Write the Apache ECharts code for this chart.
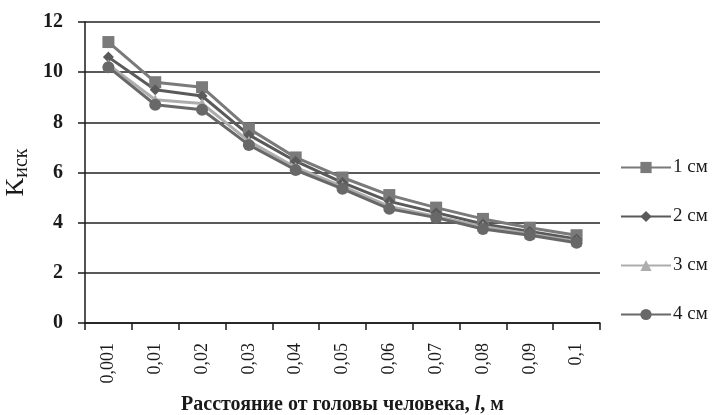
<!DOCTYPE html>
<html>
<head>
<meta charset="utf-8">
<script src="https://cdn.jsdelivr.net/npm/echarts@6/dist/echarts.min.js"></script>
<style>
  html, body { margin: 0; padding: 0; background: #fff; }
  #chart { width: 715px; height: 415px; }
</style>
</head>
<body>
<div id="chart"></div>
<script>
const categories = ["0,001", "0,01", "0,02", "0,03", "0,04", "0,05", "0,06", "0,07", "0,08", "0,09", "0,1"];
const s1 = [11.2, 9.6, 9.4, 7.75, 6.6, 5.8, 5.1, 4.6, 4.15, 3.8, 3.5];
const s2 = [10.6, 9.3, 9.05, 7.5, 6.45, 5.6, 4.85, 4.4, 3.95, 3.65, 3.35];
const s3 = [10.3, 8.9, 8.75, 7.25, 6.2, 5.45, 4.65, 4.25, 3.85, 3.55, 3.25];
const s4 = [10.2, 8.7, 8.5, 7.1, 6.1, 5.35, 4.55, 4.2, 3.75, 3.5, 3.2];
const seriesNames = ["1 см", "2 см", "3 см", "4 см"];
const yTicks = [0, 2, 4, 6, 8, 10, 12];

const serif = "Liberation Serif";
const ink = "#1a1a1a";
const chart = echarts.init(document.getElementById("chart"));

function line(name, data, color, symbol, size) {
  return {
    name: name,
    type: "line",
    data: data,
    symbol: symbol,
    symbolSize: size,
    lineStyle: { width: 3, color: color },
    itemStyle: { color: color },
  };
}

chart.setOption({
  animation: false,
  grid: { left: 85, right: 115, top: 22, bottom: 92, outerBoundsMode: "none" },
  legend: {
    orient: "vertical",
    left: 615,
    top: 153,
    itemGap: 30,
    itemWidth: 50,
    itemHeight: 14,
    textStyle: { fontFamily: serif, fontSize: 19, color: ink, padding: [0, 0, 0, -3] },
    data: seriesNames,
  },
  xAxis: {
    type: "category",
    data: categories,
    boundaryGap: true,
    name: "Расстояние от головы человека, {i|l}, м",
    nameLocation: "middle",
    nameGap: 72,
    nameTextStyle: {
      fontFamily: serif, fontSize: 20, fontWeight: "bold", color: ink,
      rich: { i: { fontFamily: serif, fontStyle: "italic", fontSize: 20, color: ink } },
    },
    axisLine: { lineStyle: { color: ink, width: 1.5 } },
    axisTick: { show: true, length: 7, lineStyle: { color: ink, width: 1.5 } },
    axisLabel: { rotate: 90, fontFamily: serif, fontSize: 18, color: ink, margin: 20 },
  },
  yAxis: {
    type: "value",
    min: 0,
    max: 12,
    interval: 2,
    name: "K{s|иск}",
    nameLocation: "middle",
    nameGap: 50,
    nameRotate: 90,
    nameTextStyle: {
      fontFamily: serif, fontSize: 26, color: ink,
      rich: { s: { fontFamily: serif, fontSize: 20, color: ink, padding: [12, 0, 0, 0] } },
    },
    axisLine: { show: true, lineStyle: { color: ink, width: 1.5 } },
    axisTick: { show: true, length: 7, lineStyle: { color: ink, width: 1.5 } },
    axisLabel: {
      fontFamily: serif, fontSize: 20, fontWeight: "bold", color: ink, margin: 22,
      formatter: (v) => (yTicks.includes(v) ? String(v) : ""),
    },
    splitLine: { lineStyle: { color: "#222", width: 1.5 } },
  },
  series: [
    line(seriesNames[0], s1, "#7a7a7a", "rect", 12),
    line(seriesNames[1], s2, "#5a5a5a", "diamond", 11),
    line(seriesNames[2], s3, "#adadad", "triangle", 11),
    line(seriesNames[3], s4, "#686868", "circle", 12),
  ],
});
</script>
</body>
</html>
